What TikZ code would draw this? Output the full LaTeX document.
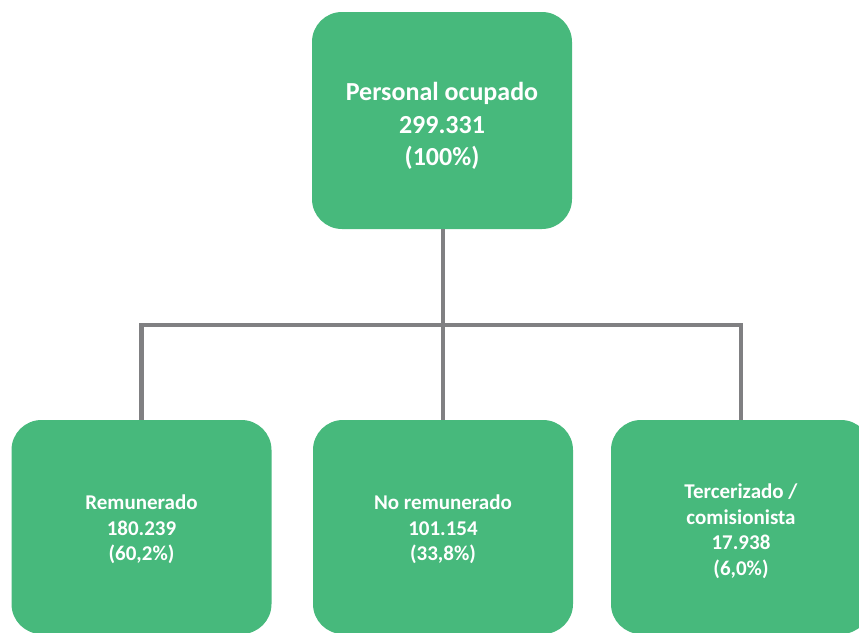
\documentclass[tikz,border=0pt]{standalone}
\usepackage{fontspec}
\setmainfont{Carlito}
\definecolor{boxgreen}{RGB}{71,185,124}
\definecolor{linegray}{RGB}{128,128,130}
% #1: extra room above the lines, pushes them down by half of it
\newcommand{\boxtext}[2]{\raisebox{0pt}[\dimexpr\height+#1\relax]{\begin{tabular}{@{}c@{}}#2\end{tabular}}}
\tikzset{
  unit/.style={fill=boxgreen, rounded corners=30pt, minimum width=260pt,
    inner sep=0pt, text=white, font=\bfseries},
  link/.style={draw=linegray, line width=4.5pt},
}

\begin{document}
\begin{tikzpicture}[x=1pt,y=-1pt]
  \useasboundingbox (0,0) rectangle (859,632);
  \begin{scope}
    \clip (0,0) rectangle (859,632);
    \node[unit, minimum height=217pt, font=\bfseries\fontsize{26}{32.5}\selectfont]
      (total) at (442,120.5) {\boxtext{12pt}{Personal ocupado\\299.331\\(100\%)}};
    \node[unit, minimum height=214pt, font=\bfseries\fontsize{21}{25.5}\selectfont]
      (rem) at (141.5,527) {\boxtext{6pt}{Remunerado\\180.239\\(60,2\%)}};
    \node[unit, minimum height=214pt, font=\bfseries\fontsize{21}{25.5}\selectfont]
      (norem) at (443,527) {\boxtext{6pt}{No remunerado\\101.154\\(33,8\%)}};
    \node[unit, minimum height=214pt, font=\bfseries\fontsize{21}{25.5}\selectfont]
      (terc) at (741,527) {\boxtext{10pt}{Tercerizado /\\comisionista\\17.938\\(6,0\%)}};

    \coordinate (split) at (443,325);
    \draw[link] (total.south -| split) -- (split);
    \draw[link] (rem.north) |- (split);
    \draw[link] (terc.north) |- (split);
    \draw[link] (norem.north) -- (split);
  \end{scope}
\end{tikzpicture}
\end{document}
